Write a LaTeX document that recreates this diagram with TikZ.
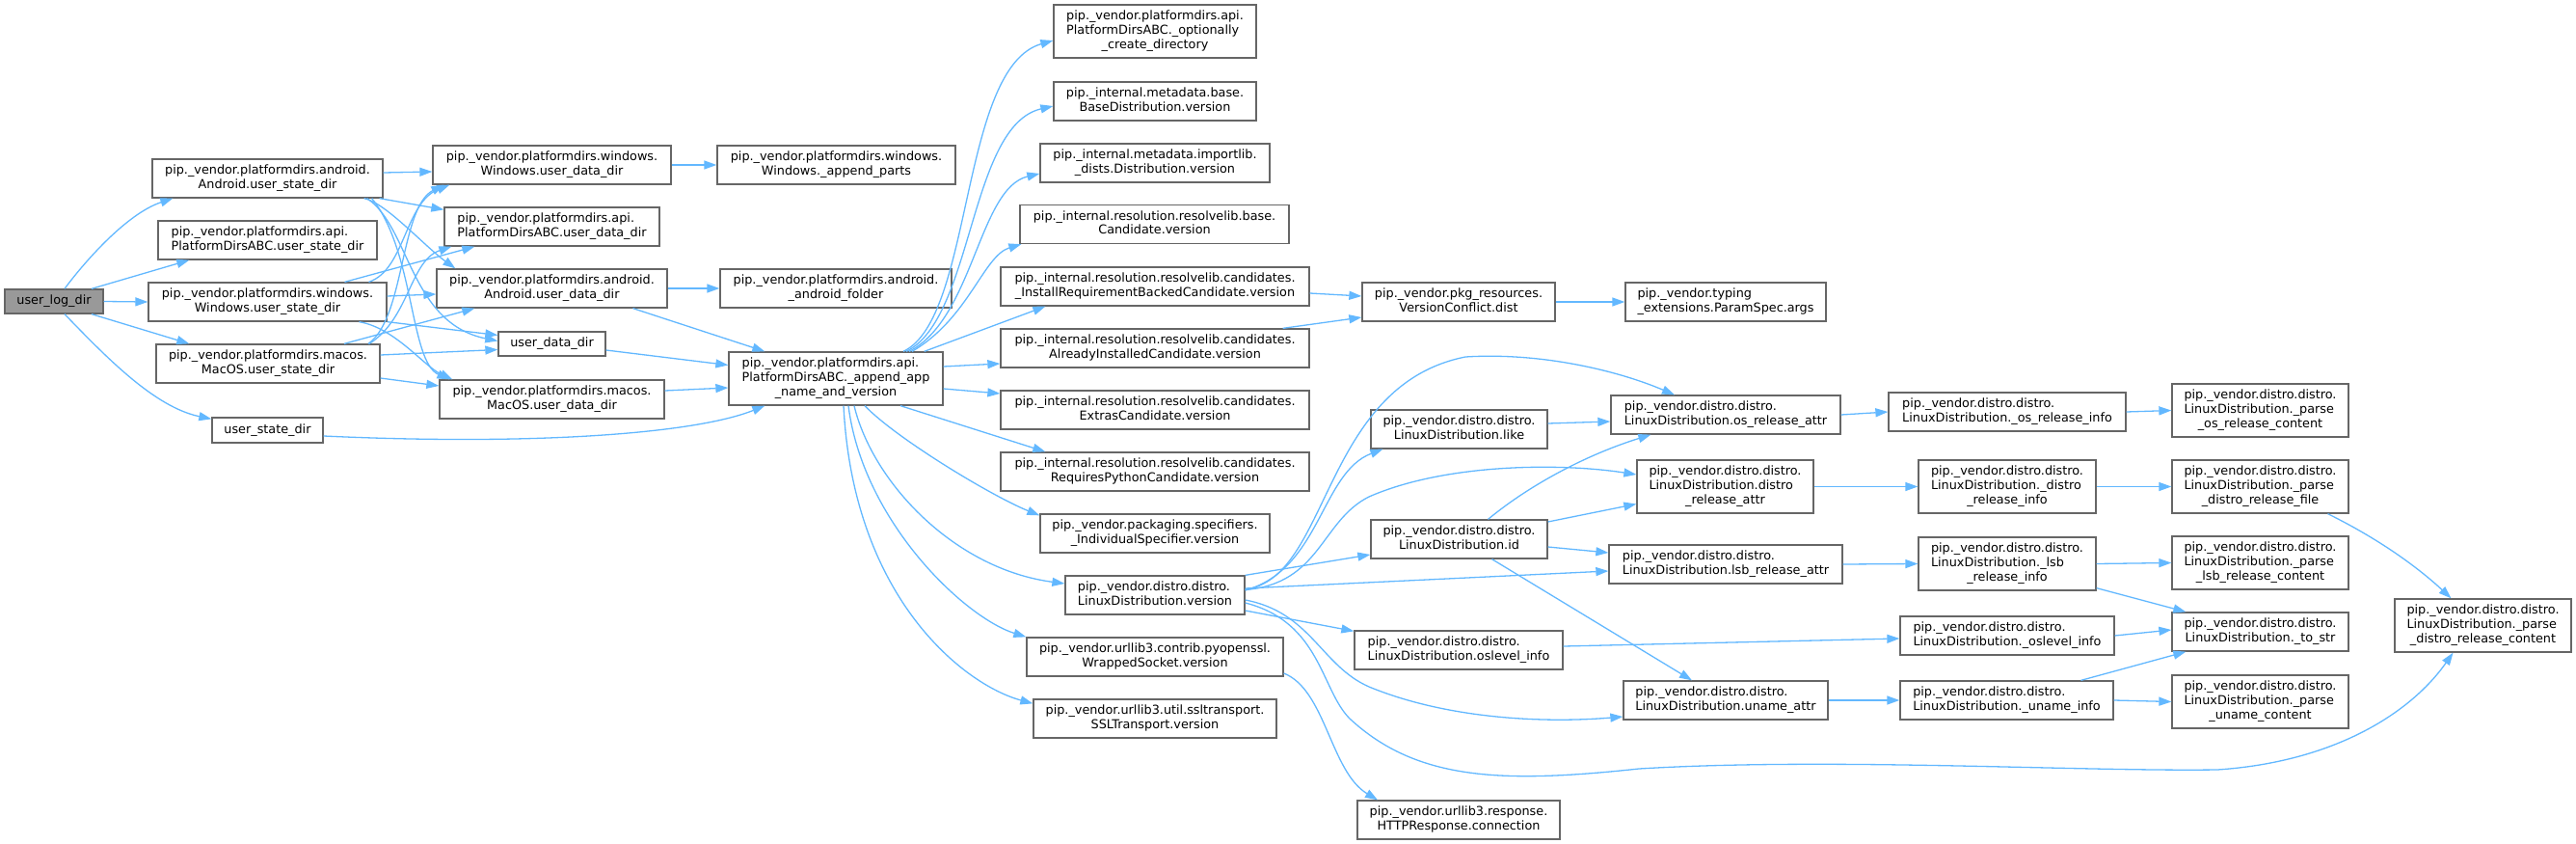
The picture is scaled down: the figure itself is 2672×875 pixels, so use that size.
\documentclass[tikz,border=0pt]{standalone}
\usepackage{fontspec}
\setmainfont{DejaVu Sans}
\usetikzlibrary{arrows.meta}
\definecolor{c40}{HTML}{666666}
\definecolor{c60}{HTML}{999999}
\definecolor{cE}{HTML}{63B8FF}
\newcommand{\twol}[2]{\begin{tabular}{@{}l@{}}#1\\\multicolumn{1}{@{}c@{}}{#2}\end{tabular}}
\newcommand{\threel}[3]{\begin{tabular}{@{}l@{}}#1\\#2\\\multicolumn{1}{@{}c@{}}{#3}\end{tabular}}
\tikzset{
  box/.style={draw=c40, fill=white, line width=1.3pt, inner sep=0pt, font=\fontsize{12.8}{14.7}\selectfont},
  hA/.style={minimum height=25pt},
  hB/.style={minimum height=40pt},
  hC/.style={minimum height=55pt},
  conn/.style={draw=cE, line width=1.3pt, -{Triangle[length=13pt,width=9pt]}},
}
\begin{document}
\begin{tikzpicture}[x=1pt,y=-1pt]
\useasboundingbox (0,0) rectangle (2672,875);
% column 0-1
\node[box,hA,minimum width=102pt,fill=c60] (root) at (56,312.5) {user\_log\_dir};
\node[box,hB,minimum width=239pt] (Ausd) at (277.5,185) {\twol{pip.\_vendor.platformdirs.android.}{Android.user\_state\_dir}};
\node[box,hB,minimum width=227pt] (APIusd) at (277.5,249) {\twol{pip.\_vendor.platformdirs.api.}{PlatformDirsABC.user\_state\_dir}};
\node[box,hB,minimum width=247pt] (Wusd) at (277.5,313) {\twol{pip.\_vendor.platformdirs.windows.}{Windows.user\_state\_dir}};
\node[box,hB,minimum width=232pt] (Musd) at (278,377) {\twol{pip.\_vendor.platformdirs.macos.}{MacOS.user\_state\_dir}};
\node[box,minimum height=26pt,minimum width=115pt] (usd) at (277.5,446) {user\_state\_dir};
% column 2
\node[box,hB,minimum width=247pt] (Wudd) at (572.5,171) {\twol{pip.\_vendor.platformdirs.windows.}{Windows.user\_data\_dir}};
\node[box,hB,minimum width=223pt] (APIudd) at (572.5,235) {\twol{pip.\_vendor.platformdirs.api.}{PlatformDirsABC.user\_data\_dir}};
\node[box,hB,minimum width=239pt] (Audd) at (572.5,299) {\twol{pip.\_vendor.platformdirs.android.}{Android.user\_data\_dir}};
\node[box,hA,minimum width=111pt] (udd) at (572.5,356.5) {user\_data\_dir};
\node[box,hB,minimum width=233pt] (Mudd) at (572.5,414) {\twol{pip.\_vendor.platformdirs.macos.}{MacOS.user\_data\_dir}};
% column 3
\node[box,hB,minimum width=247pt] (Wap) at (867.5,171) {\twol{pip.\_vendor.platformdirs.windows.}{Windows.\_append\_parts}};
\node[box,hB,minimum width=240pt] (Aaf) at (867,299) {\twol{pip.\_vendor.platformdirs.android.}{\_android\_folder}};
\node[box,hC,minimum width=222pt] (app) at (867,392.5) {\threel{pip.\_vendor.platformdirs.api.}{PlatformDirsABC.\_append\_app}{\_name\_and\_version}};
% column 4
\node[box,hC,minimum width=210pt] (opt) at (1198,32.5) {\threel{pip.\_vendor.platformdirs.api.}{PlatformDirsABC.\_optionally}{\_create\_directory}};
\node[box,hB,minimum width=210pt] (basev) at (1198,105) {\twol{pip.\_internal.metadata.base.}{BaseDistribution.version}};
\node[box,hB,minimum width=238pt] (distsv) at (1198,169) {\twol{pip.\_internal.metadata.importlib.}{\_dists.Distribution.version}};
\node[box,hB,minimum width=279pt] (candv) at (1197.5,232.5) {\twol{pip.\_internal.resolution.resolvelib.base.}{Candidate.version}};
\node[box,hB,minimum width=320pt] (irbc) at (1198,297) {\twol{pip.\_internal.resolution.resolvelib.candidates.}{\_InstallRequirementBackedCandidate.version}};
\node[box,hB,minimum width=320pt] (aic) at (1198,361) {\twol{pip.\_internal.resolution.resolvelib.candidates.}{AlreadyInstalledCandidate.version}};
\node[box,hB,minimum width=320pt] (extras) at (1198,425) {\twol{pip.\_internal.resolution.resolvelib.candidates.}{ExtrasCandidate.version}};
\node[box,hB,minimum width=320pt] (rpc) at (1198,489) {\twol{pip.\_internal.resolution.resolvelib.candidates.}{RequiresPythonCandidate.version}};
\node[box,hB,minimum width=238pt] (indiv) at (1198,553) {\twol{pip.\_vendor.packaging.specifiers.}{\_IndividualSpecifier.version}};
\node[box,hB,minimum width=186pt] (ldv) at (1198,617) {\twol{pip.\_vendor.distro.distro.}{LinuxDistribution.version}};
\node[box,hB,minimum width=266pt] (wsv) at (1198,681) {\twol{pip.\_vendor.urllib3.contrib.pyopenssl.}{WrappedSocket.version}};
\node[box,hB,minimum width=252pt] (sslv) at (1198,745) {\twol{pip.\_vendor.urllib3.util.ssltransport.}{SSLTransport.version}};
% column 5
\node[box,hB,minimum width=200pt] (vc) at (1513,313) {\twol{pip.\_vendor.pkg\_resources.}{VersionConflict.dist}};
\node[box,hB,minimum width=183pt] (like) at (1513.5,445) {\twol{pip.\_vendor.distro.distro.}{LinuxDistribution.like}};
\node[box,hB,minimum width=183pt] (id) at (1513.5,559) {\twol{pip.\_vendor.distro.distro.}{LinuxDistribution.id}};
\node[box,hB,minimum width=216pt] (osl) at (1513,674) {\twol{pip.\_vendor.distro.distro.}{LinuxDistribution.oslevel\_info}};
\node[box,hB,minimum width=210pt] (http) at (1513,850) {\twol{pip.\_vendor.urllib3.response.}{HTTPResponse.connection}};
% column 6
\node[box,hB,minimum width=208pt] (typing) at (1790,313) {\twol{pip.\_vendor.typing}{\_extensions.ParamSpec.args}};
\node[box,hB,minimum width=238pt] (osra) at (1790,430) {\twol{pip.\_vendor.distro.distro.}{LinuxDistribution.os\_release\_attr}};
\node[box,hC,minimum width=183pt] (dra) at (1789.5,504.5) {\threel{pip.\_vendor.distro.distro.}{LinuxDistribution.distro}{\_release\_attr}};
\node[box,hB,minimum width=242pt] (lsba) at (1790,585) {\twol{pip.\_vendor.distro.distro.}{LinuxDistribution.lsb\_release\_attr}};
\node[box,hB,minimum width=212pt] (una) at (1790,726) {\twol{pip.\_vendor.distro.distro.}{LinuxDistribution.uname\_attr}};
% column 7
\node[box,hB,minimum width=246pt] (osri) at (2082,427) {\twol{pip.\_vendor.distro.distro.}{LinuxDistribution.\_os\_release\_info}};
\node[box,hC,minimum width=184pt] (dri) at (2082,504.5) {\threel{pip.\_vendor.distro.distro.}{LinuxDistribution.\_distro}{\_release\_info}};
\node[box,hC,minimum width=184pt] (lsbi) at (2082,584.5) {\threel{pip.\_vendor.distro.distro.}{LinuxDistribution.\_lsb}{\_release\_info}};
\node[box,hB,minimum width=222pt] (osli) at (2082,659) {\twol{pip.\_vendor.distro.distro.}{LinuxDistribution.\_oslevel\_info}};
\node[box,hB,minimum width=221pt] (uni) at (2081.5,726) {\twol{pip.\_vendor.distro.distro.}{LinuxDistribution.\_uname\_info}};
% column 8
\node[box,hC,minimum width=183pt] (pos) at (2344.5,425.5) {\threel{pip.\_vendor.distro.distro.}{LinuxDistribution.\_parse}{\_os\_release\_content}};
\node[box,hC,minimum width=183pt] (pdrf) at (2344.5,504.5) {\threel{pip.\_vendor.distro.distro.}{LinuxDistribution.\_parse}{\_distro\_release\_file}};
\node[box,hC,minimum width=183pt] (plsb) at (2344.5,583.5) {\threel{pip.\_vendor.distro.distro.}{LinuxDistribution.\_parse}{\_lsb\_release\_content}};
\node[box,hB,minimum width=183pt] (tostr) at (2344.5,655) {\twol{pip.\_vendor.distro.distro.}{LinuxDistribution.\_to\_str}};
\node[box,hC,minimum width=183pt] (puc) at (2344.5,727.5) {\threel{pip.\_vendor.distro.distro.}{LinuxDistribution.\_parse}{\_uname\_content}};
% column 9
\node[box,hC,minimum width=183pt] (pdrc) at (2575.5,648.5) {\threel{pip.\_vendor.distro.distro.}{LinuxDistribution.\_parse}{\_distro\_release\_content}};

% ---- edges: root
\draw[conn] ([xshift=11pt]root.north) .. controls (85,275) and (130,222) .. ([xshift=22pt]Ausd.south west);
\draw[conn] ([xshift=39pt]root.north) -- ([xshift=33pt]APIusd.south west);
\draw[conn] (root.east) -- (Wusd.west);
\draw[conn] ([xshift=39pt]root.south) -- ([xshift=35pt]Musd.north west);
\draw[conn] ([xshift=11pt]root.south) .. controls (110,370) and (160,422) .. ([yshift=-2pt]usd.north west);
% Android.user_state_dir
\draw[conn] ([yshift=6pt]Ausd.east) -- ([yshift=-7pt]Wudd.west);
\draw[conn] ([xshift=-4pt]Ausd.south east) -- ([yshift=-3pt]APIudd.north west);
\draw[conn] ([xshift=-20pt]Ausd.south east) .. controls (400,210) and (440,255) .. ([xshift=20pt]Audd.north west);
\draw[conn] ([xshift=-17pt]Ausd.south east) .. controls (425,235) and (425,335) .. ([yshift=3pt]udd.west);
\draw[conn] ([xshift=-12pt]Ausd.south east) .. controls (430,260) and (425,375) .. ([xshift=11pt]Mudd.north west);
% Windows.user_state_dir
\draw[conn] ([xshift=105pt]Wusd.north) .. controls (420,280) and (420,210) .. ([xshift=18pt]Wudd.south west);
\draw[conn] ([xshift=80pt]Wusd.north) -- ([xshift=32pt]APIudd.south west);
\draw[conn] ([yshift=6pt]Wusd.east) -- ([yshift=-6pt]Audd.west);
\draw[conn] (Wusd.south east) -- ([yshift=9pt]udd.west);
\draw[conn] ([xshift=95pt]Wusd.south) .. controls (410,340) and (440,380) .. ([xshift=14pt]Mudd.north west);
% MacOS.user_state_dir
\draw[conn] ([xshift=104pt]Musd.north) .. controls (420,330) and (415,215) .. ([xshift=12pt]Wudd.south west);
\draw[conn] ([xshift=105pt]Musd.north) .. controls (425,330) and (425,270) .. ([xshift=8pt]APIudd.south west);
\draw[conn] ([xshift=79pt]Musd.north) -- ([xshift=40pt]Audd.south west);
\draw[conn] ([yshift=9pt]Musd.east) -- ([yshift=-6pt]udd.west);
\draw[conn] ([yshift=-15pt]Musd.east) -- ([yshift=14pt]Mudd.west);
% column 2 -> 3
\draw[conn] (Wudd.east) -- (Wap.west);
\draw[conn] (Audd.east) -- (Aaf.west);
\draw[conn] ([xshift=84pt]Audd.south) -- ([xshift=38pt]app.north west);
\draw[conn] ([yshift=-6.5pt]udd.east) -- ([yshift=14pt]app.west);
\draw[conn] ([yshift=9pt]Mudd.east) -- ([yshift=-9.5pt]app.west);
\draw[conn] ([yshift=-6pt]usd.east) .. controls (550,462) and (720,450) .. ([xshift=38pt]app.south west);
% app -> column 4
\draw[conn] ([xshift=70pt]app.north) .. controls (1010,330) and (995,70) .. ([yshift=-9.5pt]opt.west);
\draw[conn] ([xshift=73pt]app.north) .. controls (1010,330) and (1005,130) .. ([yshift=-5pt]basev.west);
\draw[conn] ([xshift=76pt]app.north) .. controls (1010,330) and (1015,195) .. ([yshift=-11pt]distsv.west);
\draw[conn] ([xshift=79pt]app.north) .. controls (1005,330) and (1020,265) .. ([xshift=2pt]candv.south west);
\draw[conn] ([xshift=-20pt]app.north east) -- ([xshift=47pt]irbc.south west);
\draw[conn] ([yshift=12.5pt]app.east) -- ([yshift=-16pt]aic.west);
\draw[conn] ([yshift=-10.5pt]app.east) -- ([yshift=17pt]extras.west);
\draw[conn] ([xshift=67pt]app.south) -- ([xshift=47pt]rpc.north west);
\draw[conn] ([xshift=30pt]app.south) .. controls (930,455) and (1030,515) .. ([yshift=-2pt]indiv.north west);
\draw[conn] ([xshift=19pt]app.south) .. controls (905,500) and (990,590) .. ([yshift=12pt]ldv.west);
\draw[conn] ([xshift=13pt]app.south) .. controls (895,540) and (1000,640) .. (wsv.north west);
\draw[conn] ([xshift=8pt]app.south) .. controls (885,620) and (1000,710) .. ([yshift=-5pt]sslv.north west);
% column 4 -> 5
\draw[conn] ([yshift=-7pt]irbc.east) -- ([yshift=6pt]vc.west);
\draw[conn] ([xshift=-28pt]aic.north east) -- ([yshift=-16pt]vc.west);
\draw[conn] (vc.east) -- (typing.west);
\draw[conn] ([yshift=5pt]ldv.east) .. controls (1370,590) and (1370,490) .. ([xshift=13pt]like.south west);
\draw[conn] ([yshift=6pt]ldv.east) .. controls (1380,600) and (1370,400) .. (1520,370) .. controls (1600,365) and (1680,385) .. ([xshift=-53pt]osra.north);
\draw[conn] ([yshift=5.5pt]ldv.east) .. controls (1370,605) and (1370,540) .. (1420,515) .. controls (1500,480) and (1620,480) .. ([yshift=12.5pt]dra.west);
\draw[conn] (ldv.north east) -- ([yshift=-16pt]id.west);
\draw[conn] ([yshift=7pt]ldv.east) -- ([yshift=-7pt]lsba.west);
\draw[conn] ([yshift=-16pt]ldv.east) -- ([yshift=-1pt]osl.north west);
\draw[conn] ([yshift=-5pt]ldv.east) .. controls (1360,635) and (1370,690) .. (1420,712) .. controls (1500,745) and (1600,750) .. ([yshift=-17pt]una.west);
\draw[conn] ([yshift=-8pt]ldv.east) .. controls (1370,645) and (1370,715) .. (1400,745) .. controls (1470,810) and (1560,812) .. (1700,797) .. controls (1900,785) and (2150,800) .. (2300,798) .. controls (2420,790) and (2500,740) .. ([xshift=-31pt]pdrc.south);
\draw[conn] ([yshift=-17pt]wsv.east) .. controls (1375,715) and (1380,800) .. ([xshift=-84pt]http.north);
% column 5 -> 6
\draw[conn] ([yshift=6pt]like.east) -- ([yshift=-7pt]osra.west);
\draw[conn] ([xshift=30pt]id.north) .. controls (1590,500) and (1650,470) .. ([xshift=42pt]osra.south west);
\draw[conn] ([yshift=18pt]id.east) -- ([yshift=-18pt]dra.west);
\draw[conn] ([yshift=-8pt]id.east) -- ([yshift=12pt]lsba.west);
\draw[conn] ([xshift=34pt]id.south) -- ([xshift=-35pt]una.north);
\draw[conn] ([yshift=4pt]osl.east) -- ([yshift=-3pt]osli.west);
% column 6 -> 7
\draw[conn] (osra.east) -- (osri.west);
\draw[conn] (dra.east) -- (dri.west);
\draw[conn] (lsba.east) -- (lsbi.west);
\draw[conn] (una.east) -- (uni.west);
% column 7 -> 8
\draw[conn] (osri.east) -- (pos.west);
\draw[conn] (dri.east) -- (pdrf.west);
\draw[conn] (lsbi.east) -- (plsb.west);
\draw[conn] ([yshift=3pt]lsbi.south east) -- ([xshift=15pt]tostr.north west);
\draw[conn] (osli.east) -- ([yshift=2pt]tostr.west);
\draw[conn] ([xshift=77pt]uni.north) -- ([xshift=15pt]tostr.south west);
\draw[conn] (uni.east) -- (puc.west);
% column 8 -> 9
\draw[conn] ([xshift=70pt]pdrf.south) .. controls (2470,560) and (2510,590) .. ([xshift=-33pt]pdrc.north);
\end{tikzpicture}
\end{document}
